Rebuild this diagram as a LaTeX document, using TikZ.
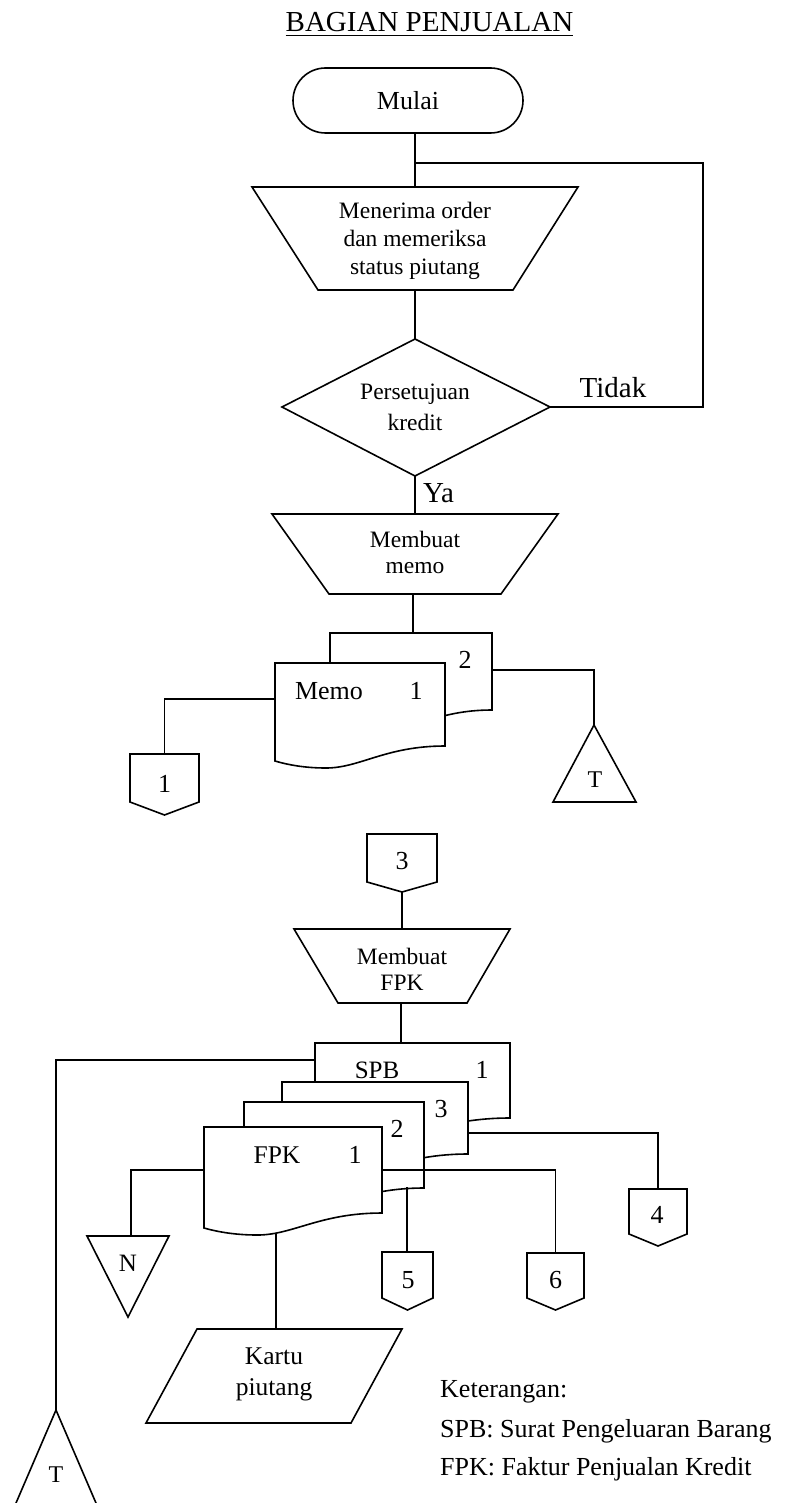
\documentclass[tikz,border=0pt]{standalone}
\usepackage{fontspec}
\setmainfont{Liberation Serif}
\usetikzlibrary{calc}
% document symbol: left, top, right, bottom-right y
\newcommand\mydoc[4]{%
  \draw[shp] (#1,#2) -- (#3,#2) -- (#3,#4)
   .. controls ({#1+0.65*(#3-#1)},#4) and ({#1+0.5*(#3-#1)},{#4+22}) .. ({#1+0.3*(#3-#1)},{#4+22})
   .. controls ({#1+0.2*(#3-#1)},{#4+22}) and ({#1+0.1*(#3-#1)},{#4+20}) .. (#1,{#4+15}) -- cycle;}
\begin{document}
\begin{tikzpicture}[x=1pt,y=-1pt,
  shp/.style={draw, line width=1.6pt, fill=white, line join=miter},
  ln/.style={line width=1.6pt},
  txt/.style={inner sep=0pt},
  fA/.style={font=\fontsize{29}{34}\selectfont},
  fB/.style={font=\fontsize{26}{31}\selectfont},
  fC/.style={font=\fontsize{23.5}{28}\selectfont},
  fT/.style={font=\fontsize{24}{28}\selectfont}]
\useasboundingbox (0,0) rectangle (784,1503);
\clip (0,0) rectangle (784,1503);

% ---------- title
\node[txt, fA, anchor=base] (title) at (429.5,31.7) {BAGIAN PENJUALAN};
\draw[line width=1.5pt] ($(title.base west)+(0,3.6)$) -- ($(title.base east)+(0,3.6)$);

% ---------- upper part
\node[shp, fB, rounded corners=32.5pt, minimum width=230pt, minimum height=65pt, inner sep=0pt] (mulai) at (408,100.5) {Mulai};
\coordinate (j1) at (415,163);
\coordinate (t1top) at (415,187);
\coordinate (t1bot) at (415,290);
\draw[shp] (252,187) -- (578,187) -- (513,290) -- (318,290) -- cycle;
\node[txt, fC, align=center] (menerima) at (415,240.5) {Menerima order\\dan memeriksa\\status piutang};

\coordinate (dT) at (415,339);
\coordinate (dR) at (550,407);
\coordinate (dB) at (415,476);
\coordinate (dL) at (282,407);
\draw[shp] (dT) -- (dR) -- (dB) -- (dL) -- cycle;
\node[txt, font=\fontsize{23.5}{31}\selectfont, align=center] (setuju) at (415,407.7) {Persetujuan\\kredit};
\coordinate (loopR) at (703,163);
\node[txt, fA, anchor=base] (tidak) at (613,397) {Tidak};
\node[txt, fA, anchor=base west] (ya) at (423,502) {Ya};

\coordinate (t2top) at (413,514);
\coordinate (t2bot) at (413,594);
\draw[shp] (272,514) -- (558,514) -- (501,594) -- (329,594) -- cycle;
\node[txt, font=\fontsize{23.5}{26}\selectfont, align=center] (memo) at (415,552) {Membuat\\memo};

% memo documents
\coordinate (m2top) at (413,633);
\mydoc{330}{633}{492}{710}
\mydoc{275}{663}{445}{746}
\node[txt, fB, anchor=base] (memotxt) at (329,699) {Memo};
\node[txt, fB, anchor=base] (memo1) at (416,699) {1};
\node[txt, fB, anchor=base] (memo2) at (465,668) {2};
\coordinate (m1L) at (275,699);
\coordinate (m2R) at (492,670);

% off-page connector 1
\coordinate (c1top) at (164.5,754);
\draw[shp] (130,754) -- (199,754) -- (199,802) -- (164.5,815) -- (130,802) -- cycle;
\node[txt, fB, anchor=base] (c1) at (164.5,792) {1};
% file T
\coordinate (tri1) at (594,725);
\draw[shp] (tri1) -- (636,802) -- (553,802) -- cycle;
\node[txt, fT, anchor=base] (triT1) at (595,787) {T};

% connectors upper
\draw[ln] (mulai.south -| j1) -- (t1top);
\draw[ln] (t1bot) -- (dT);
\draw[ln] (dR) -| (loopR) -- (j1);
\draw[ln] (dB) -- (415,514);
\draw[ln] (t2bot) -- (m2top);
\draw[ln] (m1L) -| (c1top);
\draw[ln] (m2R) -| (tri1);

% ---------- lower part
\coordinate (c3b) at (402,892);
\draw[shp] (367,834) -- (437,834) -- (437,882) -- (c3b) -- (367,882) -- cycle;
\node[txt, fB, anchor=base] (c3) at (402,869) {3};
\coordinate (t3top) at (402,929);
\draw[shp] (294,929) -- (510,929) -- (467,1003) -- (338,1003) -- cycle;
\node[txt, font=\fontsize{23.5}{26}\selectfont, align=center] (fpkproc) at (402,969) {Membuat\\FPK};
\coordinate (t3bot) at (401,1003);
\coordinate (spbtop) at (401,1043);

\mydoc{315}{1043}{510}{1118}
\mydoc{282}{1082}{468}{1154}
\mydoc{244}{1102}{424}{1188}
\mydoc{204}{1127}{382}{1213}
\node[txt, font=\fontsize{25}{30}\selectfont, anchor=base] (spbtxt) at (377,1078) {SPB};
\node[txt, fB, anchor=base] (spb1) at (482,1078) {1};
\node[txt, fB, anchor=base] (d3) at (441,1117) {3};
\node[txt, fB, anchor=base] (d2) at (397,1137) {2};
\node[txt, font=\fontsize{25.5}{30}\selectfont, anchor=base] (fpktxt) at (277,1163) {FPK};
\node[txt, fB, anchor=base] (fpk1) at (355,1163) {1};

\coordinate (spbL) at (315,1060);
\coordinate (fpkL) at (204,1170);
\coordinate (fpkR) at (382,1170);
\coordinate (fpkB) at (276,1233);
\coordinate (d2b) at (407,1187);
\coordinate (d3R) at (468,1133);

% file T (bottom left)
\coordinate (tri2) at (56,1410);
\draw[shp] (tri2) -- (107.6,1530) -- (4.4,1530) -- cycle;
\node[txt, fT, anchor=base] (triT2) at (56,1482) {T};
% file N
\coordinate (triN) at (131,1236);
\draw[shp] (87,1236) -- (169,1236) -- (128,1317) -- cycle;
\node[txt, font=\fontsize{25}{30}\selectfont, anchor=base] (nlab) at (128,1271) {N};
% connector 6
\coordinate (c6top) at (555.5,1253);
\draw[shp] (527,1253) -- (584,1253) -- (584,1298) -- (555.5,1310) -- (527,1298) -- cycle;
\node[txt, fB, anchor=base] (c6) at (555.5,1288) {6};
% connector 5
\coordinate (c5top) at (407,1252);
\draw[shp] (382,1252) -- (433,1252) -- (433,1298) -- (407.5,1310) -- (382,1298) -- cycle;
\node[txt, fB, anchor=base] (c5) at (408,1288) {5};
% connector 4
\coordinate (c4top) at (658,1189);
\draw[shp] (629,1189) -- (687,1189) -- (687,1234) -- (658,1246) -- (629,1234) -- cycle;
\node[txt, fB, anchor=base] (c4) at (657,1223) {4};
% kartu piutang
\coordinate (kartuT) at (276,1329);
\draw[shp] (197,1329) -- (402,1329) -- (351,1423) -- (146,1423) -- cycle;
\node[txt, font=\fontsize{25.5}{31}\selectfont, align=center] (kartu) at (274,1374) {Kartu\\piutang};

% connectors lower
\draw[ln] (c3b) -- (t3top);
\draw[ln] (t3bot) -- (spbtop);
\draw[ln] (spbL) -| (tri2);
\draw[ln] (fpkL) -| (triN);
\draw[ln] (fpkR) -| (c6top);
\draw[ln] (d2b) -- (c5top);
\draw[ln] (d3R) -| (c4top);
\draw[ln] (fpkB) -- (kartuT);

% legend
\node[txt, fB, anchor=base west] (ket) at (440,1397) {Keterangan:};
\node[txt, fB, anchor=base west] (ket1) at (440,1437) {SPB: Surat Pengeluaran Barang};
\node[txt, fB, anchor=base west] (ket2) at (440,1475) {FPK: Faktur Penjualan Kredit};
\end{tikzpicture}
\end{document}
